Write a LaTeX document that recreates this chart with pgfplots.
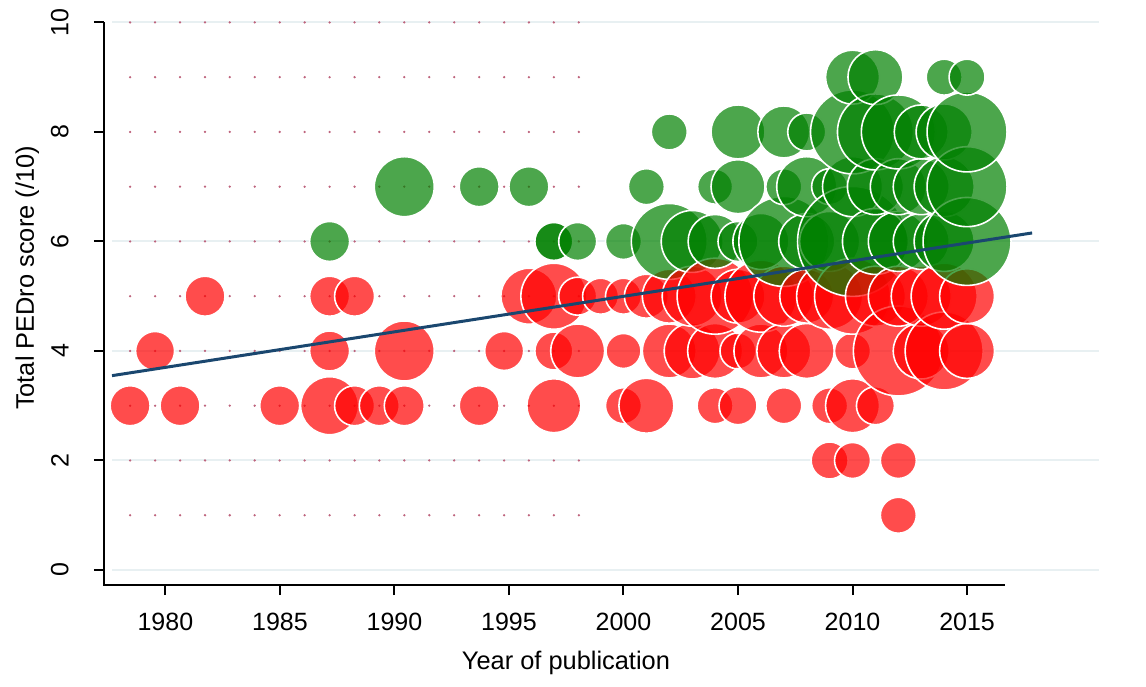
\documentclass[border=0pt]{standalone}
\usepackage{fontspec}
\setmainfont{Liberation Sans}
\usepackage{pgfplots}
\usepackage{pgfplotstable}
\pgfplotsset{compat=1.18}
\definecolor{navyline}{RGB}{26,71,111}
\definecolor{gridc}{RGB}{232,240,242}
\definecolor{dotc}{RGB}{190,100,125}

% c: 0 = red (score <= 5), 1 = green (score >= 6); r = bubble radius in pixels
\pgfplotstableread{
x y r c
1978.46 3 20 0
1979.55 4 19.5 0
1980.64 3 20 0
1981.73 5 20 0
1984.99 3 20 0
1987.17 3 29 0
1987.17 4 20 0
1987.17 5 20 0
1987.17 6 20 1
1988.26 3 20 0
1988.26 5 20 0
1989.34 3 20 0
1990.43 3 20 0
1990.43 4 30 0
1990.43 7 30 1
1993.70 3 20 0
1993.70 7 20 1
1994.79 4 19.5 0
1995.87 5 28 0
1995.87 7 20 1
1996.96 3 27 0
1996.96 4 19 0
1996.96 5 33 0
1996.96 6 19 1
1996.96 6 19 1
1998 4 27 0
1998 5 19 0
1998 6 19 1
1999 5 18 0
2000 3 18 0
2000 4 17.5 0
2000 5 18 0
2000 6 18 1
2001 3 27.5 0
2001 5 22 0
2001 7 18 1
2002 4 27 0
2002 5 27 0
2002 6 38 1
2002 8 18 1
2003 4 28 0
2003 5 30 0
2003 6 31 1
2004 3 18 0
2004 4 27.5 0
2004 5 38 0
2004 6 27 1
2004 7 17.5 1
2005 3 19 0
2005 4 18 0
2005 5 27 0
2005 6 20 1
2005 7 27 1
2005 8 27 1
2006 4 27 0
2006 5 36 0
2006 6 28 1
2007 3 18 0
2007 4 27 0
2007 5 30 0
2007 6 45 1
2007 7 18 1
2007 8 26 1
2008 4 27.5 0
2008 5 27 0
2008 6 28 1
2008 7 30 1
2008 8 19 1
2009 2 18.5 0
2009 3 18 0
2009 5 33 0
2009 6 30 1
2009 7 18 1
2010 2 18 0
2010 3 27 0
2010 4 18 0
2010 5 38 0
2010 6 55 1
2010 7 30 1
2010 8 42 1
2010 9 27 1
2011 3 19 0
2011 5 30 0
2011 6 33 1
2011 7 28 1
2011 8 38 1
2011 9 27.5 1
2012 1 18 0
2012 2 18 0
2012 4 45 0
2012 5 30 0
2012 6 30 1
2012 7 28 1
2012 8 37 1
2013 4 28 0
2013 5 30 0
2013 6 28 1
2013 7 28 1
2013 8 27 1
2014 4 39 0
2014 5 33 0
2014 6 30 1
2014 7 30 1
2014 8 28 1
2014 9 18 1
2015 4 27.5 0
2015 5 27.5 0
2015 6 44 1
2015 7 40 1
2015 8 40 1
2015 9 18 1
}\bubbles

\begin{document}
\begin{tikzpicture}
\useasboundingbox (-52pt,-50.5pt) rectangle (521pt,292.5pt);
\begin{axis}[
  at={(0pt,0pt)}, anchor=south west,
  scale only axis, width=497.5pt, height=286.5pt,
  xmin=1977.32, xmax=2020.76, ymin=-0.274, ymax=10.19,
  axis x line*=bottom, axis y line*=left,
  axis line style={draw=none},
  xtick={1980,1985,...,2015}, ytick={0,2,...,10},
  minor tick num=0,
  tick align=outside, major tick length=5pt,
  tick style={black, line width=1pt},
  /pgf/number format/1000 sep={},
  /pgf/number format/assume math mode=true,
  ticklabel style={font=\fontsize{12.5}{15}\selectfont},
  yticklabel style={xshift=-12.5pt, rotate=90, anchor=south, inner sep=0pt},
  xticklabel style={yshift=-9pt, anchor=north, inner sep=0pt},
  xlabel={Year of publication},
  ylabel={Total PEDro score (/10)},
  label style={font=\fontsize{12.7}{15}\selectfont},
  xlabel style={at={(axis description cs:0.4643,-0.1466)}, anchor=base},
  ylabel style={at={(axis description cs:-0.0704,0.5358)}, anchor=base},
  colormap={rg}{rgb255(0)=(255,0,0); rgb255(1)=(0,128,0)},
  point meta min=0, point meta max=1,
  clip=false, clip marker paths=true,
]
\pgfplotsinvokeforeach{0,2,4,6,10}{
  \draw[gridc, line width=1pt] (axis cs:1977.67,#1) -- (axis cs:2020.76,#1);
}
\draw[black, line width=1pt] (axis cs:1977.32,10) -- (axis cs:1977.32,-0.274) -- (axis cs:2016.66,-0.274);

\pgfplotsinvokeforeach{1,...,10}{
\addplot[only marks, mark=*, mark size=0.35pt, color=dotc, forget plot]
  coordinates {(1978.46,#1) (1979.55,#1) (1980.64,#1) (1981.73,#1) (1982.81,#1)
   (1983.90,#1) (1984.99,#1) (1986.08,#1) (1987.17,#1) (1988.26,#1) (1989.34,#1)
   (1990.43,#1) (1991.52,#1) (1992.61,#1) (1993.70,#1) (1994.79,#1) (1995.87,#1)
   (1996.96,#1) (1998.05,#1)};
}

\addplot[scatter, only marks, mark=*, forget plot,
  point meta=\thisrow{c},
  visualization depends on={\thisrow{r}/2 \as \rad},
  scatter/use mapped color={draw=white, fill=mapped color},
  scatter/@pre marker code/.append style={/tikz/mark size=\rad},
  mark options={fill opacity=0.7, line width=0.8pt}]
  table[x=x, y=y] {\bubbles};

\addplot[navyline, line width=1.5pt, forget plot] coordinates {(1977.67,3.549) (2017.84,6.155)};
\end{axis}
\end{tikzpicture}
\end{document}
